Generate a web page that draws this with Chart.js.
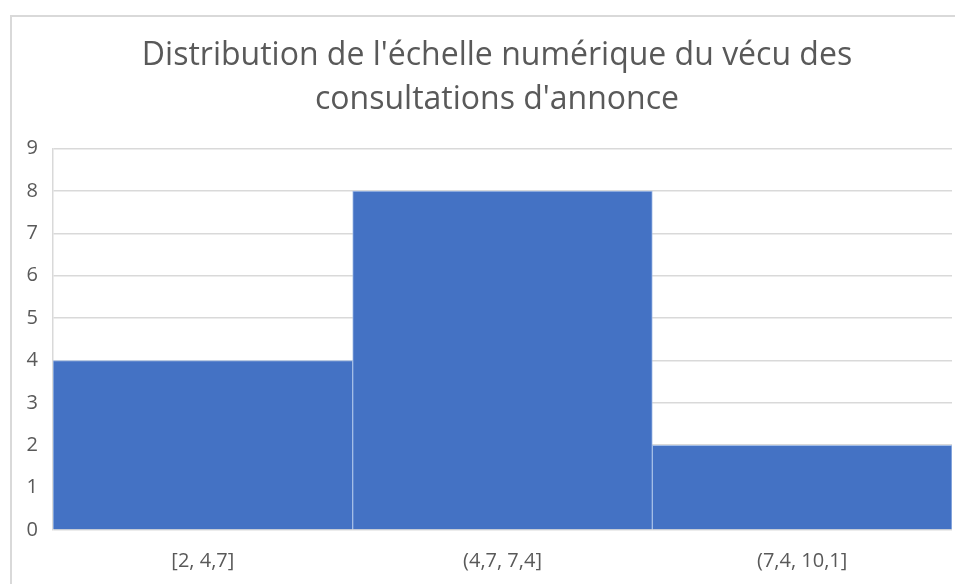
<!DOCTYPE html>
<html>
<head>
<meta charset="utf-8">
<script src="https://cdn.jsdelivr.net/npm/chart.js@4/dist/chart.umd.min.js"></script>
<style>
  html, body { margin: 0; padding: 0; background: #fff; overflow: hidden; }
  .frame { position: absolute; left: 10px; top: 15px; width: 990px; height: 600px;
           border-left: 2px solid #d9d9d9; border-top: 2px solid #d9d9d9; }
  .wrap { position: absolute; left: 0; top: 0; width: 955px; height: 584px; }
</style>
</head>
<body>
<div class="frame"></div>
<div class="wrap"><canvas id="histChart" width="955" height="584"></canvas></div>
<script>
// histogram bins and counts
const categories = ['[2, 4,7]', '(4,7, 7,4]', '(7,4, 10,1]'];
const counts = [4, 8, 2];
const chartTitle = ["Distribution de l'échelle numérique du vécu des", "consultations d'annonce"];

// Excel chart area goes past the right edge of the shot, so its title sits right of the plot centre
const shiftTitle = {
  id: 'shiftTitle',
  afterLayout(chart) {
    const t = chart.titleBlock;
    if (t) { t.left += 21; t.right += 21; }
  },
};

const ctx = document.getElementById('histChart').getContext('2d');
new Chart(ctx, {
  type: 'bar',
  data: {
    labels: categories,
    datasets: [
      {
        label: 'Effectif',
        data: counts,
        backgroundColor: '#4472C4',
        borderColor: '#A3BDE6',
        borderWidth: 1,
        barPercentage: 1,
        categoryPercentage: 1,
      },
    ],
  },
  options: {
    responsive: false,
    animation: false,
    layout: { padding: { top: 33, right: 3, left: 0, bottom: 0 } },
    plugins: {
      legend: { display: false },
      tooltip: { enabled: false },
      title: {
        display: true,
        text: chartTitle,
        color: '#595959',
        font: { family: 'Open Sans', size: 32, weight: 'normal', lineHeight: 1.4 },
        padding: { top: 0, bottom: 26 },
      },
    },
    scales: {
      x: {
        grid: { display: false },
        border: { display: false },
        ticks: { color: '#595959', font: { family: 'Open Sans', size: 20 }, padding: 11 },
        afterFit: (axis) => { axis.height = 54; },
      },
      y: {
        min: 0,
        max: 9,
        ticks: { stepSize: 1, color: '#595959', font: { family: 'Open Sans', size: 20 }, padding: 15 },
        grid: { color: '#d9d9d9', lineWidth: 1.5, drawTicks: false },
        border: { display: true, color: '#d9d9d9', width: 1.5 },
        afterFit: (axis) => { axis.width = 53; },
      },
    },
  },
  plugins: [shiftTitle],
});
</script>
</body>
</html>
